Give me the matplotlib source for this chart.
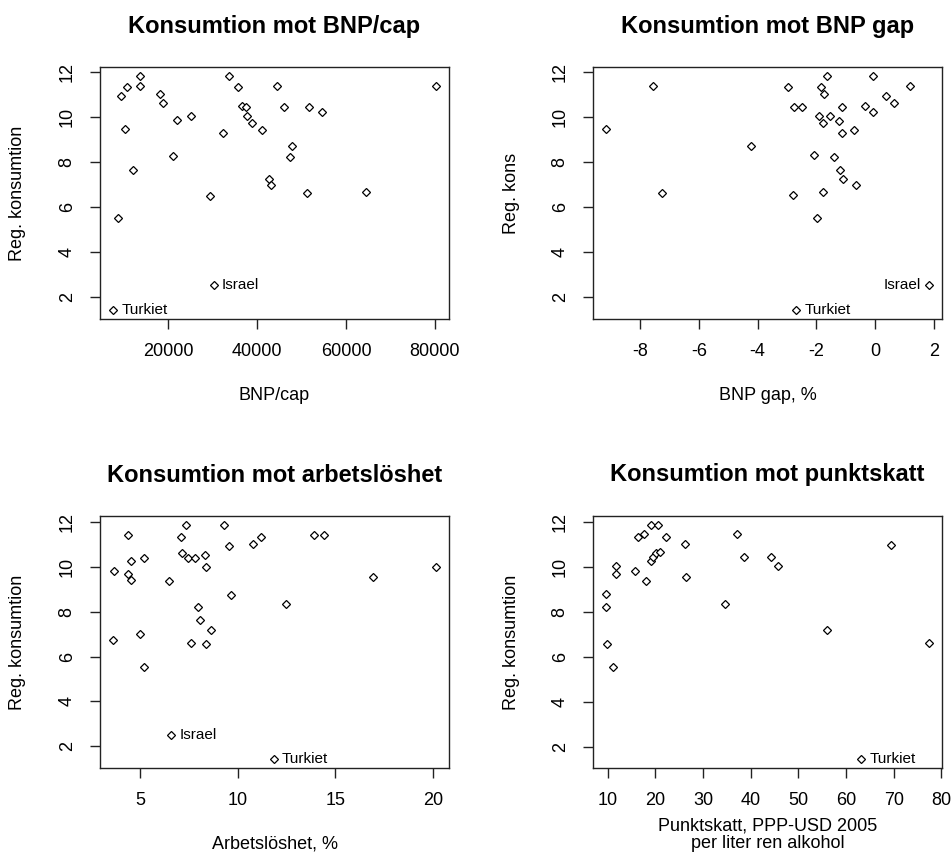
import matplotlib.pyplot as plt

plt.rcParams['font.family'] = ['Liberation Sans', 'DejaVu Sans']
plt.rcParams['axes.unicode_minus'] = False

# --- data ---
# Panel 1: konsumtion mot BNP/cap
bnp_cap = [13700, 13700, 10600, 9400, 10200, 12100, 8600, 18100, 18800, 21900,
           25000, 21100, 29400, 32400, 33700, 35700, 36500, 37500, 37700, 38800,
           41000, 44400, 46000, 47900, 47300, 42700, 43000, 51600, 54700, 51300,
           64500, 80300]
kons_cap = [11.80, 11.39, 11.33, 10.91, 9.48, 7.63, 5.50, 11.03, 10.62, 9.85,
            10.03, 8.28, 6.51, 9.30, 11.80, 11.33, 10.48, 10.44, 10.03, 9.72,
            9.43, 11.39, 10.44, 8.71, 8.24, 7.23, 6.98, 10.44, 10.20, 6.64,
            6.69, 11.39]
cap_israel = (30200, 2.53)
cap_turkiet = (7500, 1.45)

# Panel 2: konsumtion mot BNP gap
bnp_gap = [-9.16, -7.56, -7.25, -4.21, -2.95, -2.76, -2.49, -2.79, -1.99, -2.09,
           -1.64, -1.84, -1.74, -1.89, -1.78, -1.53, -1.13, -1.23, -1.12, -1.78,
           -1.38, -1.19, -1.08, -0.70, -0.65, -0.34, -0.08, -0.08, 0.38, 0.66, 1.19]
kons_gap = [9.48, 11.39, 6.63, 8.71, 11.33, 10.44, 10.44, 6.52, 5.52, 8.30,
            11.80, 11.33, 11.02, 10.03, 9.72, 10.03, 10.44, 9.83, 9.30, 6.69,
            8.24, 7.65, 7.23, 9.43, 6.98, 10.48, 10.20, 11.80, 10.91, 10.62, 11.39]
gap_israel = (1.84, 2.53)
gap_turkiet = (-2.69, 1.45)

# Panel 3: konsumtion mot arbetslöshet
arbl = [4.40, 3.68, 4.38, 4.54, 4.54, 5.21, 3.61, 4.98, 5.21, 6.49,
        7.35, 7.09, 7.16, 7.45, 7.79, 8.32, 8.39, 7.98, 8.08, 8.61,
        7.62, 8.37, 9.30, 9.57, 9.67, 10.79, 11.20, 12.45, 13.89, 14.43,
        16.92, 20.15]
kons_arbl = [11.44, 9.82, 9.70, 10.24, 9.41, 10.41, 6.74, 7.02, 5.54, 9.35,
             11.85, 11.32, 10.61, 10.41, 10.41, 10.53, 10.00, 8.21, 7.63, 7.20,
             6.61, 6.55, 11.85, 10.95, 8.76, 11.01, 11.32, 8.34, 11.44, 11.44,
             9.53, 10.00]
arbl_israel = (6.58, 2.49)
arbl_turkiet = (11.83, 1.45)

# Panel 4: konsumtion mot punktskatt
punkt = [9.65, 9.65, 9.93, 11.06, 11.69, 11.83, 15.77, 17.95, 16.33, 17.60,
         19.01, 20.49, 22.24, 19.01, 19.43, 20.20, 20.91, 26.26, 26.54, 34.63,
         37.16, 38.57, 44.20, 45.82, 55.95, 69.54, 77.42]
kons_punkt = [8.77, 8.22, 6.56, 5.56, 10.02, 9.70, 9.83, 9.36, 11.31, 11.44,
              11.84, 11.84, 11.32, 10.27, 10.45, 10.60, 10.64, 11.01, 9.53, 8.35,
              11.44, 10.42, 10.42, 10.02, 7.21, 10.95, 6.62]
punkt_turkiet = (63.13, 1.48)

y_ticks = [2, 4, 6, 8, 10, 12]

W, H = 952, 852
fig = plt.figure(figsize=(W / 100, H / 100), dpi=100)


def make_ax(left, top, right, bottom):
    return fig.add_axes([left / W, 1 - bottom / H, (right - left) / W, (bottom - top) / H])


def panel(ax, x, y, labels, title, ylabel, xticks):
    # labels: list of (name, (x, y), side)
    allx = list(x) + [p[1][0] for p in labels]
    ally = list(y) + [p[1][1] for p in labels]
    ax.plot(allx, ally, ls='none', marker='D', ms=4.0, mfc='white', mec='black', mew=0.9)
    for name, (px, py), side in labels:
        if side == 'right':
            ax.annotate(name, (px, py), xytext=(6, 0), textcoords='offset points',
                        ha='left', va='center', fontsize=11)
        else:
            ax.annotate(name, (px, py), xytext=(-6, 0), textcoords='offset points',
                        ha='right', va='center', fontsize=11)
    ax.margins(x=0.04, y=0.04)
    ax.set_xticks(xticks)
    ax.set_yticks(y_ticks)
    ax.tick_params(direction='out', length=7.5, width=1, pad=10, labelsize=13, color='#222222')
    for lab in ax.get_yticklabels():
        lab.set_rotation(90)
        lab.set_va('center')
    for s in ax.spines.values():
        s.set_linewidth(1.0)
        s.set_color('#222222')
    hpx = ax.get_position().height * H
    wpx = ax.get_position().width * W
    ax.text(0.5, 1 + 41 / hpx, title, transform=ax.transAxes, ha='center', va='center',
            fontsize=17, fontweight='bold')
    ax.text(-82 / wpx, 0.5, ylabel, transform=ax.transAxes, ha='center', va='center',
            rotation=90, fontsize=13)
    return hpx


ax1 = make_ax(100, 67, 449, 319)
ax2 = make_ax(593, 67, 942, 319)
ax3 = make_ax(100, 516, 449, 768)
ax4 = make_ax(593, 516, 942, 768)

h1 = panel(ax1, bnp_cap, kons_cap, [('Israel', cap_israel, 'right'), ('Turkiet', cap_turkiet, 'right')],
           'Konsumtion mot BNP/cap', 'Reg. konsumtion', [20000, 40000, 60000, 80000])
h2 = panel(ax2, bnp_gap, kons_gap, [('Israel', gap_israel, 'left'), ('Turkiet', gap_turkiet, 'right')],
           'Konsumtion mot BNP gap', 'Reg. kons', [-8, -6, -4, -2, 0, 2])
h3 = panel(ax3, arbl, kons_arbl, [('Israel', arbl_israel, 'right'), ('Turkiet', arbl_turkiet, 'right')],
           'Konsumtion mot arbetslöshet', 'Reg. konsumtion', [5, 10, 15, 20])
h4 = panel(ax4, punkt, kons_punkt, [('Turkiet', punkt_turkiet, 'right')],
           'Konsumtion mot punktskatt', 'Reg. konsumtion', [10, 20, 30, 40, 50, 60, 70, 80])

# x labels, placed like R's mtext line 3
ax1.text(0.5, -76 / h1, 'BNP/cap', transform=ax1.transAxes, ha='center', va='center', fontsize=13)
ax2.text(0.5, -76 / h2, 'BNP gap, %', transform=ax2.transAxes, ha='center', va='center', fontsize=13)
ax3.text(0.5, -76 / h3, 'Arbetslöshet, %', transform=ax3.transAxes, ha='center', va='center', fontsize=13)
ax4.text(0.5, -58 / h4, 'Punktskatt, PPP-USD 2005', transform=ax4.transAxes, ha='center', va='center', fontsize=13)
ax4.text(0.5, -76 / h4, 'per liter ren alkohol', transform=ax4.transAxes, ha='center', va='center', fontsize=13)

fig.savefig('out.png', dpi=100)
